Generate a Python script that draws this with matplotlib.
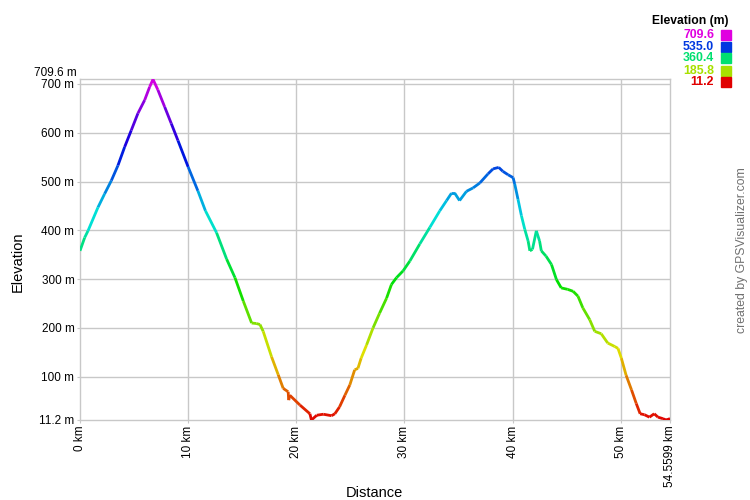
import numpy as np
import matplotlib
matplotlib.use("Agg")
import matplotlib.pyplot as plt
from matplotlib.collections import LineCollection
import colorsys

plt.rcParams['font.family'] = ['Liberation Sans', 'DejaVu Sans']

# Distance (km) and elevation (m)
dist_km = [0.0, 0.43, 0.74, 1.66, 2.28, 2.9, 3.51, 4.13, 4.74, 5.36, 5.98, 6.44, 6.75,
           7.2, 7.83, 8.44, 9.06, 10.0, 10.9, 11.6, 12.63, 13.56, 14.33, 15.1, 15.87,
           16.3, 16.64, 16.94, 17.71, 18.33, 18.79, 19.25, 19.3, 19.4, 20.33, 21.26,
           21.4, 21.9, 22.5, 23.26, 23.57, 24.0, 24.5, 24.95, 25.4, 25.7, 26.0, 26.5,
           27.1, 27.7, 28.35, 28.8, 29.27, 29.88, 30.5, 31.42, 32.35, 33.27, 33.9,
           34.35, 34.66, 35.1, 35.74, 36.35, 36.97, 37.74, 38.2, 38.72, 39.1, 39.58,
           40.05, 40.2, 40.5, 40.82, 41.13, 41.44, 41.6, 41.84, 42.2, 42.5, 42.66,
           43.1, 43.6, 44.06, 44.5, 45.1, 45.6, 46.05, 46.5, 47.13, 47.6, 48.2, 48.8,
           49.44, 49.75, 50.06, 50.5, 51.0, 51.44, 51.8, 52.2, 52.66, 53.1, 53.45,
           53.9, 54.2, 54.5599]
elev_m = [358, 385, 399, 447, 475, 502, 533, 571, 605, 640, 667, 694, 709.6,
          688, 653, 619, 584, 530, 481, 440, 395, 341, 303, 255, 210,
          209, 207, 193, 141, 104, 76, 69, 52, 62, 42, 24,
          11.2, 21, 23, 20, 24, 38, 62, 83, 114, 117, 138, 165,
          200, 230, 261, 289, 303, 317, 337, 372, 406, 440, 461,
          476, 476, 461, 480, 487, 497, 516, 526, 529, 521, 514,
          508, 495, 464, 430, 402, 378, 358, 361, 399, 378, 358,
          347, 330, 299, 282, 279, 275, 265, 241, 217, 193, 188, 169,
          162, 158, 138, 103, 73, 45, 24, 22, 17, 24, 17,
          14, 11.2, 14]

y_ticks = [100, 200, 300, 400, 500, 600, 700]
x_ticks = [0, 10, 20, 30, 40, 50]
emin, emax = 11.2, 709.6
dmax = 54.5599
legend_vals = [709.6, 535.0, 360.4, 185.8, 11.2]


def ecolor(e):
    f = (e - emin) / (emax - emin)
    f = min(max(f, 0), 1)
    return colorsys.hsv_to_rgb(f * 300 / 360, 1.0, 0.88)


fig = plt.figure(figsize=(7.5, 5), dpi=100)
ax = fig.add_axes([80 / 750, 1 - 420 / 500, 590 / 750, (420 - 79.3) / 500])
ax.set_xlim(0, dmax)
ax.set_ylim(emin, emax)

grid_c = '#c8c8c8'
for s in ax.spines.values():
    s.set_color(grid_c)
    s.set_linewidth(1)

for yt in y_ticks:
    ax.axhline(yt, color=grid_c, lw=1, zorder=0)
for xt in x_ticks[1:]:
    ax.axvline(xt, color=grid_c, lw=1, zorder=0)

x = np.array(dist_km)
y = np.array(elev_m)
pts = np.column_stack([x, y]).reshape(-1, 1, 2)
segs = np.concatenate([pts[:-1], pts[1:]], axis=1)
cols = [ecolor((a + b) / 2) for a, b in zip(y[:-1], y[1:])]
lc = LineCollection(segs, colors=cols, linewidths=2, capstyle='butt', joinstyle='miter', zorder=3)
ax.add_collection(lc)

yt_all = [emin] + y_ticks
ax.set_yticks(yt_all)
ax.set_yticklabels(['11.2 m'] + [f'{v} m' for v in y_ticks], fontsize=8.5)
ax.set_xticks(x_ticks + [dmax])
ax.set_xticklabels([f'{v} km' for v in x_ticks] + ['54.5599 km'], rotation=90, fontsize=8.5)
ax.tick_params(length=2, color=grid_c, pad=2)
ax.text(-0.006, 1.0, '709.6 m', transform=ax.transAxes, ha='right', va='bottom',
        fontsize=8.5)

fig.text(18 / 750, 1 - 262 / 500, 'Elevation', rotation=90, ha='center', va='center', fontsize=10.5)
fig.text(374 / 750, 1 - 493 / 500, 'Distance', ha='center', va='center', fontsize=10.5)

fig.text(742 / 750, 1 - 250 / 500, 'created by GPSVisualizer.com', rotation=90,
         ha='center', va='center', fontsize=8.8, color='#707070')

# legend
fig.text(728 / 750, 1 - 21 / 500, 'Elevation (m)', ha='right', va='center',
         fontsize=8.7, fontweight='bold')
ys_leg = [35, 46.7, 58.3, 70.7, 82.3]
for v, yy in zip(legend_vals, ys_leg):
    c = ecolor(v)
    fig.text(714 / 750, 1 - yy / 500, f'{v:.1f}', ha='right', va='center', fontsize=8.9,
             fontweight='bold', color=c)
    fig.patches.append(plt.Rectangle((721 / 750, 1 - (yy + 5) / 500), 10 / 750, 10 / 500,
                                     transform=fig.transFigure, color=c, figure=fig))

fig.savefig('out.png', dpi=100)
